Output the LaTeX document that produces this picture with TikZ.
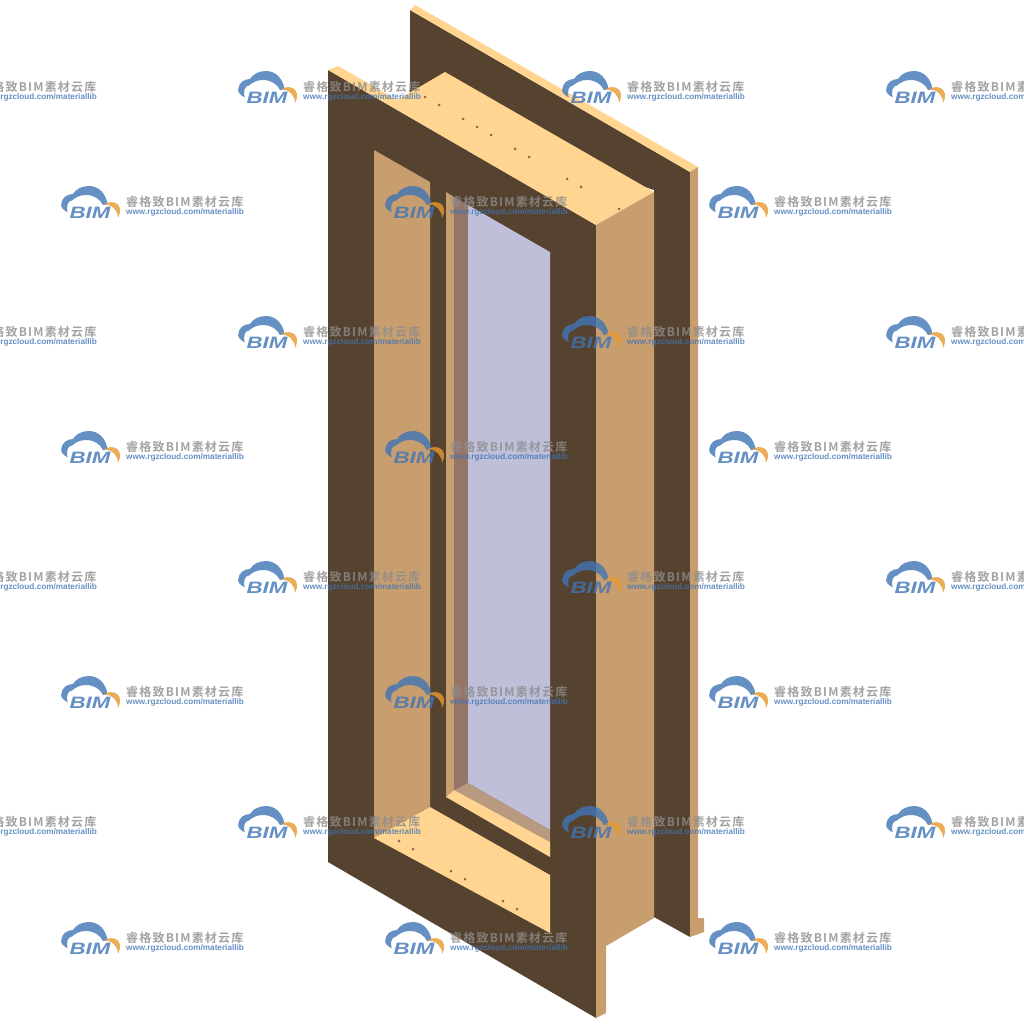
\documentclass[tikz,border=0pt]{standalone}
\usepackage{fontspec}
\setsansfont{Liberation Sans}
\newfontfamily\cjkmark{Noto Sans CJK SC}[BoldFont={* Bold}, LetterSpace=10]
\definecolor{wallDark}{HTML}{56432F}
\definecolor{wallLight}{HTML}{FFD591}
\definecolor{wallTan}{HTML}{C89E6F}
\definecolor{glassBlue}{HTML}{BFBFD9}
\definecolor{glassFrame}{HTML}{957568}
\definecolor{glassSill}{HTML}{B89A80}
\definecolor{markBlue}{HTML}{3F74B5}
\definecolor{markOrange}{HTML}{E69A2E}
\newcommand{\bimMark}[3]{
  \begin{scope}[shift={(#1,#2)}, opacity=.8]
    \fill[markBlue] (6.7,10.3) .. controls (2,8) and (-1,5) .. (0.5,1) .. controls (1,-4) and (6,-8) .. (12,-8) .. controls (15,-13) and (21,-16) .. (28,-16) .. controls (37,-16) and (45,-9) .. (46.5,2.3) -- (42,3) .. controls (39,-3) and (33,-7) .. (25,-7) .. controls (18,-7) and (14,-4) .. (11,-1.5) .. controls (7,-1) and (5,3) .. (6.7,10.3) -- cycle;
    \fill[markOrange] (43,2) .. controls (52,-3) and (64,2) .. (57,16) .. controls (57,8) and (51,3) .. (43,2) -- cycle;
    \node[markword] (bim#3) at (29,10.5) {\scalebox{1.35}[1]{BIM}};
    \node[marktitle] (title#3) at (65,0) {睿格致BIM素材云库};
    \node[markurl] (url#3) at (65,10.5) {www.rgzcloud.com/materiallib};
  \end{scope}
}
\begin{document}
\begin{tikzpicture}[x=1pt, y=-1pt]
  \tikzset{
    darkface/.style={fill=wallDark},
    lightface/.style={fill=wallLight},
    tanface/.style={fill=wallTan},
    screwdot/.style={circle, fill=wallTan!45!wallDark, inner sep=0pt, minimum size=3pt},
    markword/.style={inner sep=0pt, text=markBlue, font=\sffamily\bfseries\itshape\fontsize{16.5}{16.5}\selectfont},
    marktitle/.style={anchor=west, inner sep=0pt, text=black!45, font=\cjkmark\bfseries\fontsize{12}{12}\selectfont},
    markurl/.style={anchor=west, inner sep=0pt, text=markBlue, font=\sffamily\bfseries\fontsize{8.2}{8.2}\selectfont}
  }
  \useasboundingbox (0,0) rectangle (1024,1024);
  \clip (0,0) rectangle (1024,1024);
  % back wall
  \fill[darkface] (410,10) -- (690,172) -- (690,937) -- (654,917) -- (654,190) -- (410,110) -- cycle;
  \fill[lightface] (410,10) -- (415,5) -- (698,167) -- (690,172) -- cycle;
  \fill[tanface] (690,172) -- (698,167) -- (698,918) -- (704,918) -- (704,932) -- (690,937) -- cycle;
  % front wall
  \fill[darkface] (328,70) -- (596,225) -- (596,1018) -- (328,862) -- cycle;
  \fill[lightface] (328,70) -- (338,66) -- (397,100) -- (445,72) -- (654,192) -- (596,225) -- cycle;
  \fill[tanface] (596,225) -- (654,192) -- (654,918) -- (606,946) -- (606,1013) -- (596,1018) -- cycle;
  % opening
  \fill[tanface] (374,150) -- (430,182) -- (430,807) -- (374,838) -- cycle;
  \fill[lightface] (374,838) -- (430,807) -- (550,875) -- (550,933) -- cycle;
  \fill[tanface] (446,192) -- (454,197) -- (454,790) -- (446,797) -- cycle;
  \fill[glassFrame] (454,197) -- (468,205) -- (468,783) -- (454,790) -- cycle;
  \fill[glassBlue] (468,205) -- (550,252) -- (550,830) -- (468,783) -- cycle;
  \fill[glassSill] (454,790) -- (468,783) -- (550,830) -- (550,842) -- cycle;
  \fill[lightface] (446,797) -- (454,790) -- (550,842) -- (550,857) -- cycle;
  % screws
  \foreach \px/\py [count=\n] in {425/97, 439/105, 463/119, 477/127, 491/135, 515/149, 529/157, 567/179, 581/187, 619/209, 399/841, 413/849, 451/871, 465/879, 503/901, 517/909}
    \node[screwdot] (dot\n) at (\px,\py) {};
  % watermark rows
  \foreach \ry [count=\r] in {87, 332, 577, 822}
    \foreach \rx [count=\c] in {-86, 238, 562, 886}
      \bimMark{\rx}{\ry}{a\r\c};
  \foreach \ry [count=\r] in {202, 447, 692, 938}
    \foreach \rx [count=\c] in {61, 385, 709}
      \bimMark{\rx}{\ry}{b\r\c};
\end{tikzpicture}
\end{document}
